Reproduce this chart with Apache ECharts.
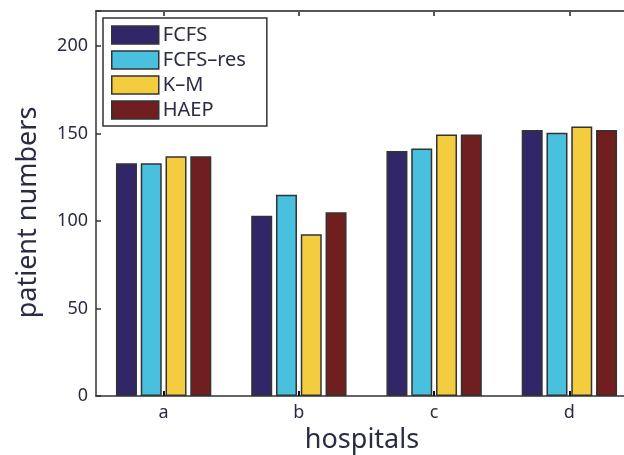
<!DOCTYPE html>
<html>
<head>
<meta charset="utf-8">
<script src="https://cdn.jsdelivr.net/npm/echarts@6/dist/echarts.min.js"></script>
<style>
html,body{margin:0;padding:0;background:#fff;}
#c{width:624px;height:455px;}
</style>
</head>
<body>
<div id="c"></div>
<script>
var categories = ['a', 'b', 'c', 'd'];
var seriesNames = ['FCFS', 'FCFS\u2013res', 'K\u2013M', 'HAEP'];
var fcfs = [133, 103, 140, 152];
var fcfsRes = [133, 115, 141.5, 150.5];
var km = [137, 92.5, 149.5, 154];
var haep = [137, 105, 149.5, 152];
var yTicks = [0, 50, 100, 150, 200];
var colors = ['#312768', '#48c0de', '#f4cc40', '#701e20'];

var textColor = '#2a2c42';
var fontFam = '"Noto Sans", "Open Sans", sans-serif';
var values = [fcfs, fcfsRes, km, haep];

var chart = echarts.init(document.getElementById('c'), null, {renderer: 'canvas'});
var series = seriesNames.map(function (n, i) {
  return {
    name: n,
    type: 'bar',
    data: values[i],
    barWidth: 21,
    barGap: '18%',
    itemStyle: {color: colors[i], borderColor: '#333', borderWidth: 1.5},
    emphasis: {disabled: true}
  };
});
chart.setOption({
  animation: false,
  backgroundColor: '#fff',
  grid: {left: 96, top: 11, width: 541, height: 385, containLabel: false, outerBoundsMode: 'none'},
  legend: {
    orient: 'vertical',
    left: 103,
    top: 18,
    padding: [7, 21, 6, 8],
    borderColor: '#333',
    borderWidth: 1.5,
    itemWidth: 47,
    itemHeight: 18,
    itemGap: 5,
    icon: 'rect',
    itemStyle: {borderColor: '#333', borderWidth: 1.5},
    textStyle: {color: textColor, fontSize: 20, fontFamily: fontFam, padding: [0, 0, 0, -1]},
    data: seriesNames
  },
  xAxis: [{
    type: 'category',
    data: categories,
    position: 'bottom',
    name: 'hospitals',
    nameLocation: 'middle',
    nameGap: 25,
    nameTextStyle: {color: textColor, fontSize: 27, fontFamily: fontFam, verticalAlign: 'top', padding: [0, 9, 0, 0]},
    axisLine: {show: true, lineStyle: {color: '#333', width: 1.5}},
    axisTick: {show: true, inside: true, alignWithLabel: true, length: 5, lineStyle: {color: '#111', width: 2}},
    axisLabel: {color: textColor, fontSize: 18, fontFamily: fontFam, margin: 8}
  }, {
    type: 'category',
    data: categories,
    position: 'top',
    axisLine: {show: true, lineStyle: {color: '#555', width: 2}},
    axisTick: {show: true, inside: true, alignWithLabel: true, length: 5, lineStyle: {color: '#555', width: 2}},
    axisLabel: {show: false}
  }],
  yAxis: {
    type: 'value',
    min: 0,
    max: 220,
    interval: 50,
    name: 'patient numbers',
    nameLocation: 'middle',
    nameGap: 54,
    nameTextStyle: {color: textColor, fontSize: 27, fontFamily: fontFam, padding: [0, 0, 0, -18]},
    axisLine: {show: true, lineStyle: {color: '#333', width: 1.5}},
    axisTick: {show: true, inside: true, length: 5, lineStyle: {color: '#333', width: 1.5}},
    axisLabel: {
      color: textColor, fontSize: 18, fontFamily: fontFam, margin: 8,
      formatter: function (v) { return yTicks.indexOf(v) >= 0 ? String(v) : ''; }
    },
    splitLine: {show: false}
  },
  series: series
});
</script>
</body>
</html>
